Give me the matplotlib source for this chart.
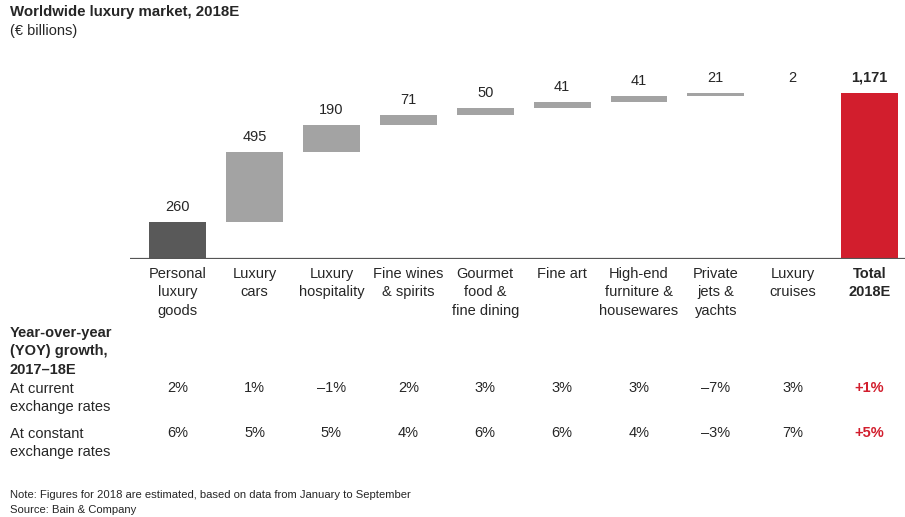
import numpy as np
import matplotlib
matplotlib.use("Agg")
import matplotlib.pyplot as plt
from matplotlib.transforms import blended_transform_factory

plt.rcParams['font.family'] = ['Liberation Sans', 'DejaVu Sans']

# ---- data ----
categories = ["Personal\nluxury\ngoods", "Luxury\ncars", "Luxury\nhospitality",
              "Fine wines\n& spirits", "Gourmet\nfood &\nfine dining", "Fine art",
              "High-end\nfurniture &\nhousewares", "Private\njets &\nyachts",
              "Luxury\ncruises", "Total\n2018E"]
segment_values = [260, 495, 190, 71, 50, 41, 41, 21, 2]
total_value = 1171
total_labels = ["260", "495", "190", "71", "50", "41", "41", "21", "2", "1,171"]
growth_current = ["2%", "1%", "\u20131%", "2%", "3%", "3%", "3%", "\u20137%", "3%", "+1%"]
growth_constant = ["6%", "5%", "5%", "4%", "6%", "6%", "4%", "\u20133%", "7%", "+5%"]

W, H = 905, 517
fig = plt.figure(figsize=(W / 100, H / 100), dpi=100)

TEXT = "#262626"
RED = "#d21e2d"
GREY = "#a3a3a3"
DARK = "#595959"
LS = 1.4

# bar axes placed in pixel space
base_px = 259
left_px, right_px = 130, 905
top_px = base_px - 166 * 1300 / total_value
ax = fig.add_axes([left_px / W, (H - base_px) / H,
                   (right_px - left_px) / W, (base_px - top_px) / H])
ax.set_xlim(-0.62, 9.46)
ax.set_ylim(0, 1300)
ax.axis("off")

n = len(segment_values)
x = np.arange(n + 1)
bottoms = np.concatenate([[0], np.cumsum(segment_values)[:-1]])
colors = [DARK] + [GREY] * (n - 1)
bw = 0.74
ax.bar(x[:n], segment_values, bottom=bottoms, width=bw, color=colors, linewidth=0)
ax.bar(x[n], total_value, width=bw, color=RED, linewidth=0)
ax.axhline(0, color="#555555", lw=1.6, xmin=0, xmax=1)

tops = list(bottoms + np.array(segment_values)) + [total_value]
for i, (t, lab) in enumerate(zip(tops, total_labels)):
    ax.annotate(lab, (x[i], t), xytext=(0, 15), textcoords="offset pixels",
                ha="center", va="center", fontsize=10.5, color=TEXT,
                fontweight="bold" if i == n else "normal")

def fy(py):
    return (H - py) / H

tr = blended_transform_factory(ax.transData, fig.transFigure)

for i, cat in enumerate(categories):
    ax.text(x[i], fy(267), cat, transform=tr, ha="center", va="top",
            fontsize=10.5, color=TEXT, linespacing=LS,
            fontweight="bold" if i == n else "normal")
    bold = i == n
    col = RED if bold else TEXT
    ax.text(x[i], fy(388), growth_current[i], transform=tr, ha="center", va="center",
            fontsize=10.5, color=col, fontweight="bold" if bold else "normal")
    ax.text(x[i], fy(433), growth_constant[i], transform=tr, ha="center", va="center",
            fontsize=10.5, color=col, fontweight="bold" if bold else "normal")

# row headers
fig.text(10 / W, fy(326), "Year-over-year\n(YOY) growth,\n2017\u201318E", ha="left", va="top",
         fontsize=10.5, fontweight="bold", color=TEXT, linespacing=LS)
fig.text(10 / W, fy(382), "At current\nexchange rates", ha="left", va="top",
         fontsize=10.5, color=TEXT, linespacing=LS)
fig.text(10 / W, fy(427), "At constant\nexchange rates", ha="left", va="top",
         fontsize=10.5, color=TEXT, linespacing=LS)

# title
fig.text(10 / W, fy(12), "Worldwide luxury market, 2018E", ha="left", va="center",
         fontsize=10.8, fontweight="bold", color=TEXT)
fig.text(10 / W, fy(31), "(\u20ac billions)", ha="left", va="center",
         fontsize=10.5, color=TEXT)

# footnotes
fig.text(10 / W, fy(495), "Note: Figures for 2018 are estimated, based on data from January to September",
         ha="left", va="center", fontsize=8.1, color=TEXT)
fig.text(10 / W, fy(510), "Source: Bain & Company", ha="left", va="center",
         fontsize=8.1, color=TEXT)

fig.savefig("out.png", dpi=100, facecolor="white")
